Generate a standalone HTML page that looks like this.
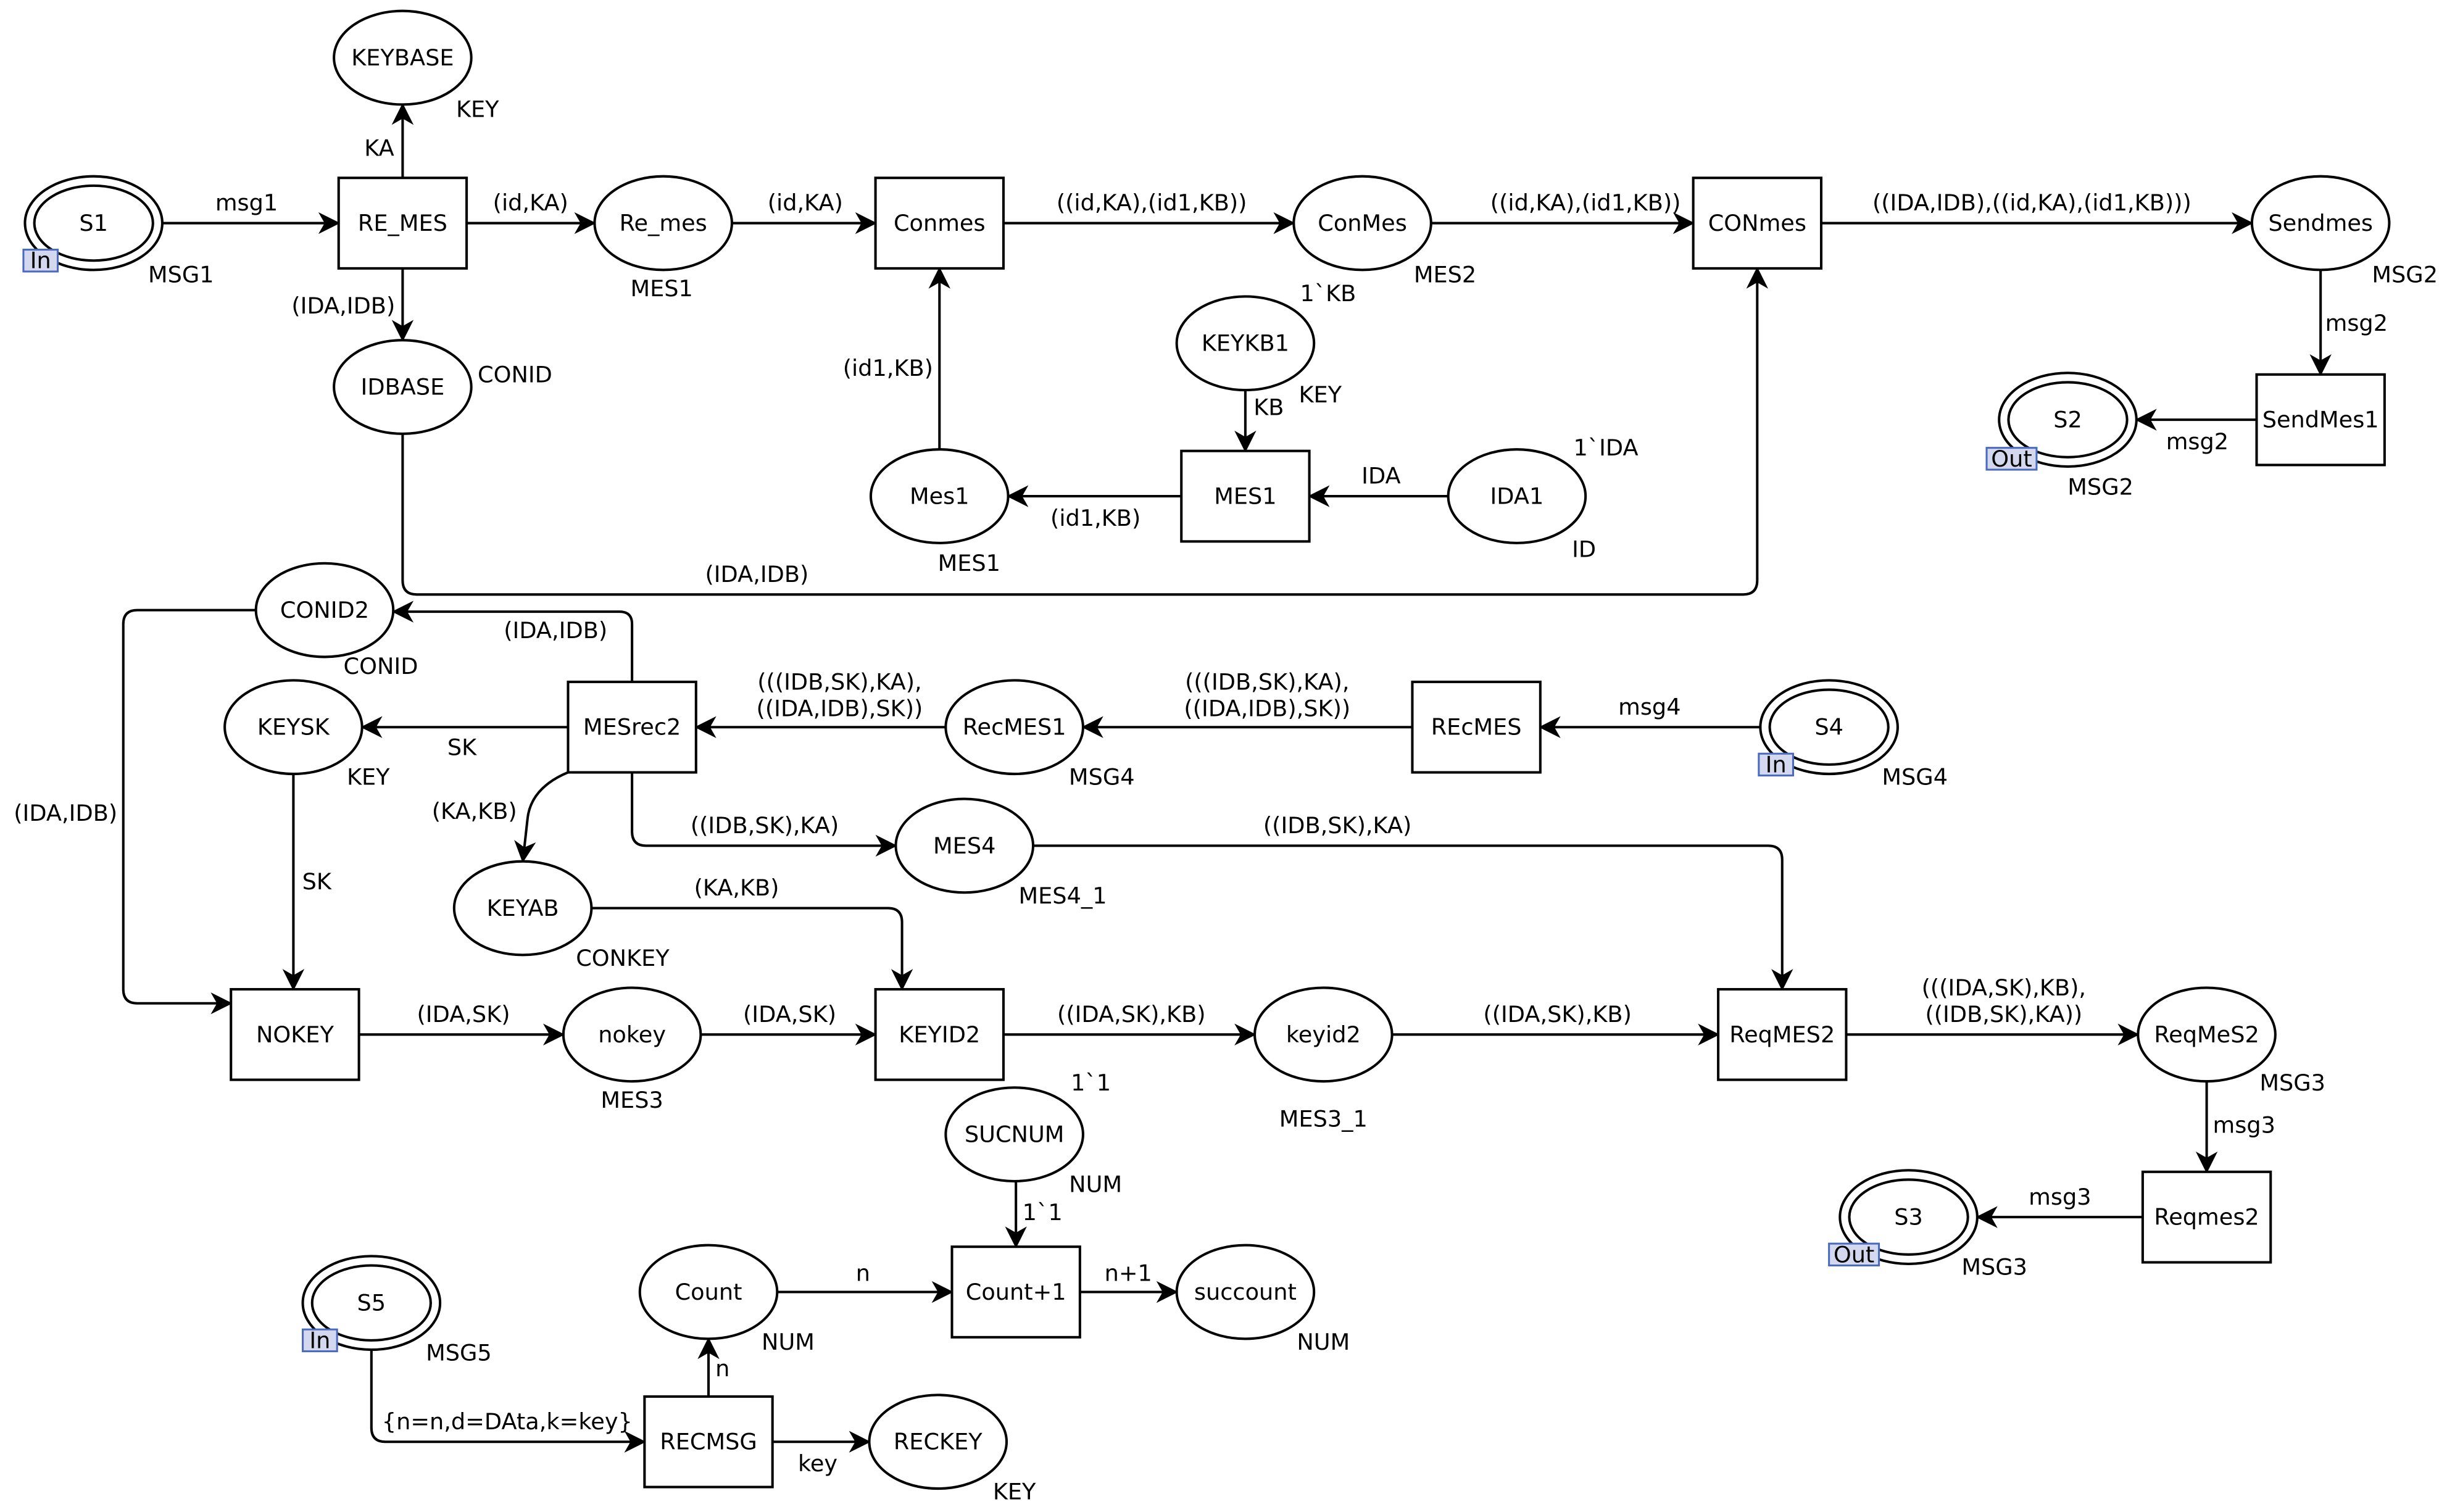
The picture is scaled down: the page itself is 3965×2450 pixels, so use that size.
<!DOCTYPE html>
<html><head><meta charset="utf-8"><style>
html,body{margin:0;padding:0;background:#fff;}
svg{display:block;}
text{font-family:"DejaVu Sans","Liberation Sans",sans-serif;font-size:14.5px;fill:#000;}
.c{text-anchor:middle;dominant-baseline:central;}
</style></head><body>
<svg width="3965" height="2450" viewBox="0 0 1568 969" preserveAspectRatio="none" xmlns="http://www.w3.org/2000/svg">
<defs>
<marker id="a" markerWidth="14" markerHeight="14" refX="13" refY="7" orient="auto" markerUnits="userSpaceOnUse">
<path d="M0,0 L14,7 L0,14 L4,7 Z" fill="#000"/>
</marker>
</defs>
<g fill="none" stroke="#000" stroke-width="1.6" marker-end="url(#a)">
<path d="M104,143 L217,143"/>
<path d="M258,114 L258,67"/>
<path d="M299,143 L381,143"/>
<path d="M469,143 L561,143"/>
<path d="M643,143 L829,143"/>
<path d="M917,143 L1085,143"/>
<path d="M1167,143 L1443,143"/>
<path d="M1487,173 L1487,240"/>
<path d="M1446,269 L1369,269"/>
<path d="M258,172 L258,218"/>
<path d="M258,278 L258,372 Q258,381 267,381 L1117,381 Q1126,381 1126,372 L1126,172"/>
<path d="M798,250 L798,289"/>
<path d="M928,318 L839,318"/>
<path d="M757,318 L646,318"/>
<path d="M602,288 L602,172"/>
<path d="M405,437 L405,400 Q405,392 397,392 L252,392"/>
<path d="M164,391 L88,391 Q79,391 79,400 L79,634 Q79,643 88,643 L148,643"/>
<path d="M364,466 L232,466"/>
<path d="M188,496 L188,634"/>
<path d="M364,495 Q340,505 338,525 L335,552"/>
<path d="M405,495 L405,533 Q405,542 414,542 L574,542"/>
<path d="M606,466 L446,466"/>
<path d="M905,466 L694,466"/>
<path d="M1128,466 L987,466"/>
<path d="M662,542 L1133,542 Q1142,542 1142,551 L1142,634"/>
<path d="M379,582 L569,582 Q578,582 578,591 L578,634"/>
<path d="M230,663 L361,663"/>
<path d="M449,663 L561,663"/>
<path d="M643,663 L804,663"/>
<path d="M892,663 L1101,663"/>
<path d="M1183,663 L1370,663"/>
<path d="M1414,693 L1414,751"/>
<path d="M1373,780 L1267,780"/>
<path d="M651,757 L651,799"/>
<path d="M498,828 L610,828"/>
<path d="M692,828 L754,828"/>
<path d="M454,895 L454,858"/>
<path d="M238,865 L238,915 Q238,924 247,924 L413,924"/>
<path d="M495,924 L557,924"/>
</g>
<g fill="#fff" stroke="#000" stroke-width="1.6">
<ellipse cx="258" cy="37" rx="44" ry="30"/>
<ellipse cx="60" cy="143" rx="44" ry="30"/><ellipse cx="60" cy="143" rx="38" ry="24"/>
<ellipse cx="425" cy="143" rx="44" ry="30"/>
<ellipse cx="873" cy="143" rx="44" ry="30"/>
<ellipse cx="1487" cy="143" rx="44" ry="30"/>
<ellipse cx="258" cy="248" rx="44" ry="30"/>
<ellipse cx="798" cy="220" rx="44" ry="30"/>
<ellipse cx="602" cy="318" rx="44" ry="30"/>
<ellipse cx="972" cy="318" rx="44" ry="30"/>
<ellipse cx="1325" cy="269" rx="44" ry="30"/><ellipse cx="1325" cy="269" rx="38" ry="24"/>
<ellipse cx="208" cy="391" rx="44" ry="30"/>
<ellipse cx="188" cy="466" rx="44" ry="30"/>
<ellipse cx="650" cy="466" rx="44" ry="30"/>
<ellipse cx="1172" cy="466" rx="44" ry="30"/><ellipse cx="1172" cy="466" rx="38" ry="24"/>
<ellipse cx="618" cy="542" rx="44" ry="30"/>
<ellipse cx="335" cy="582" rx="44" ry="30"/>
<ellipse cx="405" cy="663" rx="44" ry="30"/>
<ellipse cx="848" cy="663" rx="44" ry="30"/>
<ellipse cx="1414" cy="663" rx="44" ry="30"/>
<ellipse cx="650" cy="727" rx="44" ry="30"/>
<ellipse cx="1223" cy="780" rx="44" ry="30"/><ellipse cx="1223" cy="780" rx="38" ry="24"/>
<ellipse cx="238" cy="835" rx="44" ry="30"/><ellipse cx="238" cy="835" rx="38" ry="24"/>
<ellipse cx="454" cy="828" rx="44" ry="30"/>
<ellipse cx="798" cy="828" rx="44" ry="30"/>
<ellipse cx="601" cy="924" rx="44" ry="30"/>
<rect x="217" y="114" width="82" height="58"/>
<rect x="561" y="114" width="82" height="58"/>
<rect x="1085" y="114" width="82" height="58"/>
<rect x="1446" y="240" width="82" height="58"/>
<rect x="757" y="289" width="82" height="58"/>
<rect x="364" y="437" width="82" height="58"/>
<rect x="905" y="437" width="82" height="58"/>
<rect x="148" y="634" width="82" height="58"/>
<rect x="561" y="634" width="82" height="58"/>
<rect x="1101" y="634" width="82" height="58"/>
<rect x="1373" y="751" width="82" height="58"/>
<rect x="610" y="799" width="82" height="58"/>
<rect x="413" y="895" width="82" height="58"/>
</g>
<g fill="#d4d8ee" stroke="#4a6abf" stroke-width="1.2">
<rect x="15" y="160" width="22" height="14"/>
<rect x="1273" y="287" width="32" height="14"/>
<rect x="1127" y="483" width="22" height="14"/>
<rect x="1172" y="797" width="32" height="14"/>
<rect x="194" y="852" width="22" height="14"/>
</g>
<g class="c" style="font-size:13px">
<text x="26" y="167" fill="#3a5ab0" class="c">In</text>
<text x="1289" y="294" fill="#3a5ab0" class="c">Out</text>
<text x="1138" y="490" fill="#3a5ab0" class="c">In</text>
<text x="1188" y="804" fill="#3a5ab0" class="c">Out</text>
<text x="205" y="859" fill="#3a5ab0" class="c">In</text>
</g>
<g>
<text class="c" x="258" y="37">KEYBASE</text>
<text class="c" x="60" y="143">S1</text>
<text class="c" x="425" y="143">Re_mes</text>
<text class="c" x="873" y="143">ConMes</text>
<text class="c" x="1487" y="143">Sendmes</text>
<text class="c" x="258" y="248">IDBASE</text>
<text class="c" x="798" y="220">KEYKB1</text>
<text class="c" x="602" y="318">Mes1</text>
<text class="c" x="972" y="318">IDA1</text>
<text class="c" x="1325" y="269">S2</text>
<text class="c" x="208" y="391">CONID2</text>
<text class="c" x="188" y="466">KEYSK</text>
<text class="c" x="650" y="466">RecMES1</text>
<text class="c" x="1172" y="466">S4</text>
<text class="c" x="618" y="542">MES4</text>
<text class="c" x="335" y="582">KEYAB</text>
<text class="c" x="405" y="663">nokey</text>
<text class="c" x="848" y="663">keyid2</text>
<text class="c" x="1414" y="663">ReqMeS2</text>
<text class="c" x="650" y="727">SUCNUM</text>
<text class="c" x="1223" y="780">S3</text>
<text class="c" x="238" y="835">S5</text>
<text class="c" x="454" y="828">Count</text>
<text class="c" x="798" y="828">succount</text>
<text class="c" x="601" y="924">RECKEY</text>
<text class="c" x="258" y="143">RE_MES</text>
<text class="c" x="602" y="143">Conmes</text>
<text class="c" x="1126" y="143">CONmes</text>
<text class="c" x="1487" y="269">SendMes1</text>
<text class="c" x="798" y="318">MES1</text>
<text class="c" x="405" y="466">MESrec2</text>
<text class="c" x="946" y="466">REcMES</text>
<text class="c" x="189" y="663">NOKEY</text>
<text class="c" x="602" y="663">KEYID2</text>
<text class="c" x="1142" y="663">ReqMES2</text>
<text class="c" x="1414" y="780">Reqmes2</text>
<text class="c" x="651" y="828">Count+1</text>
<text class="c" x="454" y="924">RECMSG</text>

<text class="c" x="158" y="130">msg1</text>
<text class="c" x="116" y="176">MSG1</text>
<text class="c" x="243" y="95">KA</text>
<text class="c" x="306" y="70">KEY</text>
<text class="c" x="340" y="130">(id,KA)</text>
<text class="c" x="424" y="185">MES1</text>
<text class="c" x="516" y="130">(id,KA)</text>
<text class="c" x="738" y="130">((id,KA),(id1,KB))</text>
<text class="c" x="926" y="176">MES2</text>
<text class="c" x="851" y="188">1`KB</text>
<text class="c" x="1016" y="130">((id,KA),(id1,KB))</text>
<text class="c" x="1302" y="130">((IDA,IDB),((id,KA),(id1,KB)))</text>
<text class="c" x="1541" y="176">MSG2</text>
<text class="c" x="1510" y="207">msg2</text>
<text class="c" x="1408" y="283">msg2</text>
<text class="c" x="1346" y="312">MSG2</text>
<text class="c" x="220" y="196">(IDA,IDB)</text>
<text class="c" x="330" y="240">CONID</text>
<text class="c" x="485" y="368">(IDA,IDB)</text>
<text class="c" x="813" y="261">KB</text>
<text class="c" x="846" y="253">KEY</text>
<text class="c" x="885" y="305">IDA</text>
<text class="c" x="1029" y="287">1`IDA</text>
<text class="c" x="1015" y="352">ID</text>
<text class="c" x="702" y="332">(id1,KB)</text>
<text class="c" x="621" y="361">MES1</text>
<text class="c" x="569" y="236">(id1,KB)</text>
<text class="c" x="356" y="404">(IDA,IDB)</text>
<text class="c" x="244" y="427">CONID</text>
<text class="c" x="42" y="521">(IDA,IDB)</text>
<text class="c" x="296" y="479">SK</text>
<text class="c" x="236" y="498">KEY</text>
<text class="c" x="203" y="565">SK</text>
<text class="c" x="304" y="520">(KA,KB)</text>
<text class="c" x="399" y="614">CONKEY</text>
<text class="c" x="490" y="529">((IDB,SK),KA)</text>
<text class="c" x="681" y="574">MES4_1</text>
<text class="c" x="538" y="437">(((IDB,SK),KA),</text>
<text class="c" x="538" y="454">((IDA,IDB),SK))</text>
<text class="c" x="812" y="437">(((IDB,SK),KA),</text>
<text class="c" x="812" y="454">((IDA,IDB),SK))</text>
<text class="c" x="706" y="498">MSG4</text>
<text class="c" x="1057" y="453">msg4</text>
<text class="c" x="1227" y="498">MSG4</text>
<text class="c" x="857" y="529">((IDB,SK),KA)</text>
<text class="c" x="472" y="569">(KA,KB)</text>
<text class="c" x="297" y="650">(IDA,SK)</text>
<text class="c" x="405" y="705">MES3</text>
<text class="c" x="506" y="650">(IDA,SK)</text>
<text class="c" x="725" y="650">((IDA,SK),KB)</text>
<text class="c" x="848" y="717">MES3_1</text>
<text class="c" x="699" y="694">1`1</text>
<text class="c" x="998" y="650">((IDA,SK),KB)</text>
<text class="c" x="1284" y="633">(((IDA,SK),KB),</text>
<text class="c" x="1284" y="650">((IDB,SK),KA))</text>
<text class="c" x="1469" y="694">MSG3</text>
<text class="c" x="1438" y="721">msg3</text>
<text class="c" x="1320" y="767">msg3</text>
<text class="c" x="1278" y="812">MSG3</text>
<text class="c" x="668" y="777">1`1</text>
<text class="c" x="702" y="759">NUM</text>
<text class="c" x="553" y="816">n</text>
<text class="c" x="505" y="860">NUM</text>
<text class="c" x="723" y="816">n+1</text>
<text class="c" x="848" y="860">NUM</text>
<text class="c" x="463" y="877">n</text>
<text class="c" x="325" y="911">{n=n,d=DAta,k=key}</text>
<text class="c" x="294" y="867">MSG5</text>
<text class="c" x="524" y="938">key</text>
<text class="c" x="650" y="956">KEY</text>
</g>
</svg>
</body></html>
